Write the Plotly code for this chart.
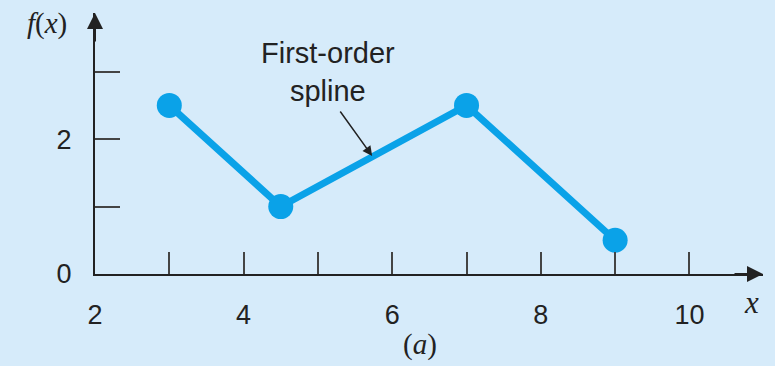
import plotly.graph_objects as go

x_knots = [3, 4.5, 7, 9]
f_knots = [2.5, 1, 2.5, 0.5]
x_tick_vals = [2, 3, 4, 5, 6, 7, 8, 9, 10]
x_tick_text = ["2", "", "4", "", "6", "", "8", "", "10"]
y_tick_vals = [0, 1, 2, 3]
y_tick_text = ["0", "", "2", ""]

BG = "#d6ebfa"
LINE = "#0aa2e8"
INK = "#222222"

fig = go.Figure()
fig.add_trace(go.Scatter(
    x=x_knots, y=f_knots, mode="lines+markers",
    line=dict(color=LINE, width=7),
    marker=dict(color=LINE, size=25),
    cliponaxis=False, showlegend=False, hoverinfo="skip",
))

XMAX, YMAX = 10.99, 3.87

fig.update_layout(
    width=775, height=366,
    margin=dict(l=95, r=12, t=13, b=92),
    paper_bgcolor=BG, plot_bgcolor=BG,
    font=dict(family="Liberation Sans, Arial, sans-serif", size=27, color=INK),
    xaxis=dict(range=[2, XMAX], tickvals=x_tick_vals, ticktext=x_tick_text,
               ticks="inside", ticklen=22, tickwidth=2, tickcolor="#444",
               showline=True, linewidth=2, linecolor=INK,
               showgrid=False, zeroline=False, ticklabelstandoff=16),
    yaxis=dict(range=[0, YMAX], tickvals=y_tick_vals, ticktext=y_tick_text,
               ticks="inside", ticklen=25, tickwidth=2, tickcolor="#444",
               showline=True, linewidth=2, linecolor=INK,
               showgrid=False, zeroline=False, ticklabelstandoff=16),
)

# axis arrowheads
fig.add_annotation(x=XMAX, y=0, ax=-30, ay=0, xref="x", yref="y", text="",
                   showarrow=True, arrowhead=2, arrowsize=1.6, arrowwidth=2,
                   arrowcolor=INK, standoff=0)
fig.add_annotation(x=2, y=YMAX, ax=0, ay=30, xref="x", yref="y", text="",
                   showarrow=True, arrowhead=2, arrowsize=1.6, arrowwidth=2,
                   arrowcolor=INK, standoff=0)

# axis titles (paper coords relative to plot area)
serif = "Liberation Serif, DejaVu Serif, serif"
fig.add_annotation(x=-0.072, y=0.958, xref="paper", yref="paper", text="<i>f</i>(<i>x</i>)",
                   showarrow=False, font=dict(family=serif, size=29, color=INK),
                   xanchor="center", yanchor="middle")
fig.add_annotation(x=0.983, y=-0.11, xref="paper", yref="paper", text="<i>x</i>",
                   showarrow=False, font=dict(family=serif, size=31, color=INK),
                   xanchor="center", yanchor="middle")
fig.add_annotation(x=0.4865, y=-0.272, xref="paper", yref="paper", text="(<i>a</i>)",
                   showarrow=False, font=dict(family=serif, size=29, color=INK),
                   xanchor="center", yanchor="middle")

# label and pointer
fig.add_annotation(x=5.14, y=3.0, xref="x", yref="y", text="First-order<br>spline",
                   showarrow=False, font=dict(size=29, color=INK),
                   xanchor="center", yanchor="middle")
fig.add_annotation(x=5.73, y=1.75, ax=-33, ay=-46, xref="x", yref="y", text="",
                   showarrow=True, arrowhead=2, arrowsize=1.3, arrowwidth=1.5,
                   arrowcolor=INK, standoff=0)

fig.write_html("out.html", config={"displayModeBar": False},
               post_script="document.body.style.margin='0';")
